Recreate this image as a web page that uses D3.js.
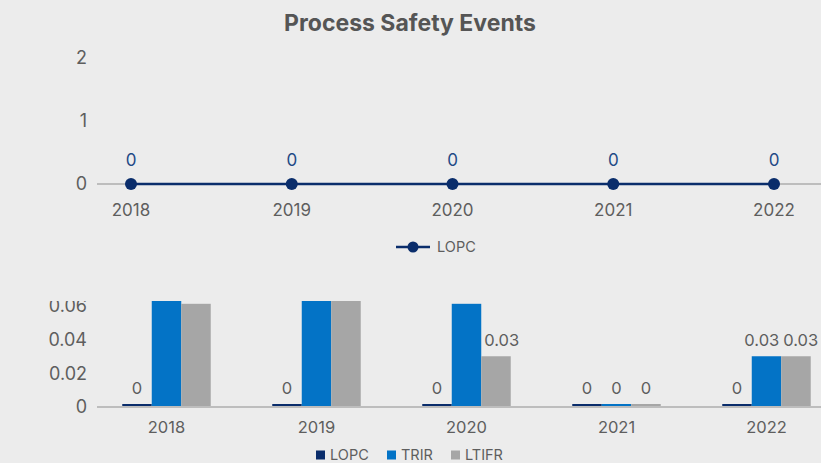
<!DOCTYPE html>
<html>
<head>
<meta charset="utf-8">
<script src="https://cdn.jsdelivr.net/npm/d3@7"></script>
<style>
  body { margin: 0; background: #ececec; }
  svg { display: block; font-family: Inter, "Open Sans", sans-serif; }
</style>
</head>
<body>
<svg id="chart" width="821" height="463"></svg>
<script>
var years = ['2018', '2019', '2020', '2021', '2022'];
var lopcEvents = [0, 0, 0, 0, 0];
var lineTicks = [0, 1, 2];

var barSeries = ['LOPC', 'TRIR', 'LTIFR'];
var lopcRate = [0, 0, 0, 0, 0];
var trirRate = [0.07, 0.07, 0.061, 0, 0.03];
var ltifrRate = [0.061, 0.07, 0.03, 0, 0.03];
var barTicks = [0, 0.02, 0.04, 0.06];

var colors = { LOPC: '#0a2d6b', TRIR: '#0373c6', LTIFR: '#a6a6a6' };
var textColor = '#5e5e5e';
var axisColor = '#bdbdbd';

var svg = d3.select('#chart');

svg.append('text')
	.attr('x', 410).attr('y', 31)
	.attr('text-anchor', 'middle')
	.attr('font-size', 23).attr('font-weight', 700)
	.attr('fill', '#555')
	.text('Process Safety Events');

// ---- top: line chart
var xLine = d3.scalePoint().domain(years).range([131, 774]);
var yLine = d3.scaleLinear().domain([0, 2]).range([184, 58]);

var lineG = svg.append('g');
lineG.append('line')
	.attr('x1', 97).attr('x2', 821)
	.attr('y1', yLine(0)).attr('y2', yLine(0))
	.attr('stroke', axisColor).attr('stroke-width', 2);

lineG.selectAll('.ytick').data(lineTicks).enter().append('text')
	.attr('x', 87).attr('y', function(d) { return yLine(d); })
	.attr('dy', '0.36em').attr('text-anchor', 'end')
	.attr('font-size', 18).attr('fill', textColor)
	.text(function(d) { return d; });

lineG.selectAll('.xlab').data(years).enter().append('text')
	.attr('x', function(d) { return xLine(d); }).attr('y', 215.5)
	.attr('text-anchor', 'middle')
	.attr('font-size', 17).attr('fill', textColor)
	.text(function(d) { return d; });

var lineData = years.map(function(y, i) { return { year: y, v: lopcEvents[i] }; });
lineG.append('path').datum(lineData)
	.attr('fill', 'none').attr('stroke', colors.LOPC).attr('stroke-width', 2.5)
	.attr('d', d3.line().x(function(d) { return xLine(d.year); }).y(function(d) { return yLine(d.v); }));

lineG.selectAll('.dot').data(lineData).enter().append('circle')
	.attr('cx', function(d) { return xLine(d.year); })
	.attr('cy', function(d) { return yLine(d.v); })
	.attr('r', 6).attr('fill', colors.LOPC);

lineG.selectAll('.vlab').data(lineData).enter().append('text')
	.attr('x', function(d) { return xLine(d.year); })
	.attr('y', function(d) { return yLine(d.v) - 18.5; })
	.attr('text-anchor', 'middle')
	.attr('font-size', 17).attr('fill', '#1f4a86')
	.text(function(d) { return d.v; });

var lg = svg.append('g').attr('transform', 'translate(396,247)');
lg.append('line').attr('x1', 0).attr('x2', 34).attr('stroke', colors.LOPC).attr('stroke-width', 2.5);
lg.append('circle').attr('cx', 17).attr('r', 5.5).attr('fill', colors.LOPC);
lg.append('text').attr('x', 41).attr('dy', '0.36em')
	.attr('font-size', 14.5).attr('fill', textColor).text('LOPC');

// ---- bottom: grouped bars (cut off at its top edge)
svg.append('clipPath').attr('id', 'barclip')
	.append('rect').attr('x', 0).attr('y', 301).attr('width', 821).attr('height', 162);

var bottom = svg.append('g').attr('clip-path', 'url(#barclip)');

var x0 = d3.scaleBand().domain(years).range([91.5, 841.5]).paddingInner(0.41).paddingOuter(0.205);
var x1 = d3.scaleBand().domain(barSeries).range([0, x0.bandwidth()]);
var yBar = d3.scaleLinear().domain([0, 0.06]).range([407, 305.5]);

bottom.selectAll('.btick').data(barTicks).enter().append('text')
	.attr('x', 87).attr('y', function(d) { return yBar(d); })
	.attr('dy', '0.36em').attr('text-anchor', 'end')
	.attr('font-size', 18).attr('fill', textColor)
	.text(function(d) { return d; });

var rows = years.map(function(y, i) {
	return { year: y, vals: [
		{ key: 'LOPC', v: lopcRate[i] },
		{ key: 'TRIR', v: trirRate[i] },
		{ key: 'LTIFR', v: ltifrRate[i] }
	] };
});

var groups = bottom.selectAll('.grp').data(rows).enter().append('g')
	.attr('transform', function(d) { return 'translate(' + x0(d.year) + ',0)'; });

function barTop(v) { return Math.min(yBar(v), yBar(0) - 3); }

groups.selectAll('rect').data(function(d) { return d.vals; }).enter().append('rect')
	.attr('x', function(d) { return x1(d.key); })
	.attr('width', x1.bandwidth())
	.attr('y', function(d) { return barTop(d.v); })
	.attr('height', function(d) { return yBar(0) - barTop(d.v); })
	.attr('fill', function(d) { return colors[d.key]; });

groups.each(function(row) {
	var g = d3.select(this);
	var labels = g.selectAll('text').data(row.vals).enter().append('text')
		.attr('x', function(d) { return x1(d.key) + x1.bandwidth() / 2; })
		.attr('y', function(d) { return barTop(d.v) - 10; })
		.attr('text-anchor', 'middle')
		.attr('font-size', 16.5).attr('fill', textColor)
		.text(function(d) { return Math.round(d.v * 100) / 100; });
	var nodes = labels.nodes();
	// keep a label clear of a taller bar on its left
	nodes.forEach(function(n, i) {
		if (i === 0) return;
		var prev = row.vals[i - 1];
		var t = d3.select(n);
		var w = n.getComputedTextLength();
		if (barTop(prev.v) < +t.attr('y')) {
			var edge = x1(prev.key) + x1.bandwidth() + 3;
			if (+t.attr('x') - w / 2 < edge) t.attr('x', edge + w / 2);
		}
	});
	// push neighbouring labels apart when they sit at the same height and collide
	for (var i = 0; i < nodes.length - 1; i++) {
		var a = d3.select(nodes[i]), b = d3.select(nodes[i + 1]);
		if (Math.abs(+a.attr('y') - +b.attr('y')) > 12) continue;
		var wa = nodes[i].getComputedTextLength(), wb = nodes[i + 1].getComputedTextLength();
		var overlap = (+a.attr('x') + wa / 2 + 4) - (+b.attr('x') - wb / 2);
		if (overlap > 0) {
			a.attr('x', +a.attr('x') - overlap / 2);
			b.attr('x', +b.attr('x') + overlap / 2);
		}
	}
});

bottom.append('line')
	.attr('x1', 97).attr('x2', 821)
	.attr('y1', yBar(0)).attr('y2', yBar(0))
	.attr('stroke', axisColor).attr('stroke-width', 2);

bottom.selectAll('.bx').data(years).enter().append('text')
	.attr('x', function(d) { return x0(d) + x0.bandwidth() / 2; }).attr('y', 432.5)
	.attr('text-anchor', 'middle')
	.attr('font-size', 16.5).attr('fill', textColor)
	.text(function(d) { return d; });

var leg = svg.append('g').attr('transform', 'translate(316,455)');
var legX = [0, 71, 135];
barSeries.forEach(function(s, i) {
	leg.append('rect').attr('x', legX[i]).attr('y', -4.5).attr('width', 9).attr('height', 9).attr('fill', colors[s]);
	leg.append('text').attr('x', legX[i] + 14).attr('dy', '0.36em')
		.attr('font-size', 14.5).attr('fill', textColor).text(s);
});
</script>
</body>
</html>
